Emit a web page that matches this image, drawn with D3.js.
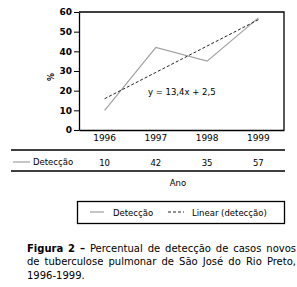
<!DOCTYPE html>
<html>
<head>
<meta charset="utf-8">
<script src="https://cdn.jsdelivr.net/npm/d3@7"></script>
<style>
  body { margin: 0; background: #fff; }
  svg text { font-family: "DejaVu Sans", sans-serif; fill: #000; }
</style>
</head>
<body>
<div id="chart"></div>
<script>
// Data
const years = ['1996', '1997', '1998', '1999'];
const deteccao = [10, 42, 35, 57];
const trendSlope = 13.4;
const trendIntercept = 2.5;
const yTicks = [0, 10, 20, 30, 40, 50, 60];
const captionLines = [
  ['Figura 2 –', 'Percentual de detecção de casos novos'],
  ['', 'de tuberculose pulmonar de São José do Rio Preto,'],
  ['', '1996-1999.']
];

const W = 297, H = 287;
const plot = { left: 79, right: 284, top: 12, bottom: 130 };

const svg = d3.select('#chart')
  .append('svg')
  .attr('width', W)
  .attr('height', H);

// Scales
const xScale = d3.scaleBand().domain(years).range([plot.left, plot.right]);
const xc = d => xScale(d) + xScale.bandwidth() / 2;
const yScale = d3.scaleLinear().domain([0, 60]).range([plot.bottom, plot.top]);

// Frame (top + right)
svg.append('path')
  .attr('d', `M${plot.left},${plot.top}H${plot.right}V${plot.bottom}`)
  .attr('fill', 'none')
  .attr('stroke', '#000')
  .attr('stroke-width', 1.3);

// Y axis
const yAxis = svg.append('g')
  .attr('transform', `translate(${plot.left},0)`)
  .call(d3.axisLeft(yScale).tickValues(yTicks).tickSize(5).tickPadding(2).tickSizeOuter(0));
yAxis.select('.domain').attr('stroke-width', 1.3);
yAxis.selectAll('text').attr('font-size', 9).attr('font-weight', 'bold').style('font-family', '"DejaVu Sans", sans-serif');

// X axis
const xAxis = svg.append('g')
  .attr('transform', `translate(0,${plot.bottom})`)
  .call(d3.axisBottom(xScale).tickSize(0).tickPadding(5).tickSizeOuter(0));
xAxis.select('.domain').attr('stroke-width', 1.3);
xAxis.selectAll('text').attr('font-size', 9).style('font-family', '"DejaVu Sans", sans-serif');

// Y label
svg.append('text')
  .attr('transform', 'translate(54,77) rotate(-90)')
  .attr('text-anchor', 'middle')
  .attr('font-size', 8)
  .attr('font-weight', 'bold')
  .text('%');

// Data line
const line = d3.line()
  .x((d, i) => xc(years[i]))
  .y(d => yScale(d));

svg.append('path')
  .datum(deteccao)
  .attr('d', line)
  .attr('fill', 'none')
  .attr('stroke', '#a0a0a0')
  .attr('stroke-width', 1.2);

// Trend line
const trend = years.map((y, i) => trendSlope * (i + 1) + trendIntercept);
svg.append('path')
  .datum(trend)
  .attr('d', line)
  .attr('fill', 'none')
  .attr('stroke', '#222')
  .attr('stroke-width', 1)
  .attr('stroke-dasharray', '3,2');

svg.append('text')
  .attr('x', 148)
  .attr('y', 95)
  .attr('font-size', 8.5)
  .text('y = 13,4x + 2,5');

// Data table
svg.append('line')
  .attr('x1', 11).attr('x2', plot.right + 1)
  .attr('y1', 150).attr('y2', 150)
  .attr('stroke', '#000').attr('stroke-width', 1.3);
svg.append('line')
  .attr('x1', 11).attr('x2', plot.right + 1)
  .attr('y1', 171).attr('y2', 171)
  .attr('stroke', '#000').attr('stroke-width', 1.3);

svg.append('line')
  .attr('x1', 13).attr('x2', 30)
  .attr('y1', 162).attr('y2', 162)
  .attr('stroke', '#a0a0a0').attr('stroke-width', 1.2);
svg.append('text')
  .attr('x', 33).attr('y', 165)
  .attr('font-size', 8.5)
  .text('Detecção');

svg.selectAll('.val')
  .data(deteccao)
  .enter()
  .append('text')
  .attr('class', 'val')
  .attr('x', (d, i) => xc(years[i]))
  .attr('y', 165.5)
  .attr('text-anchor', 'middle')
  .attr('font-size', 8.5)
  .text(d => d);

svg.append('text')
  .attr('x', 178).attr('y', 186)
  .attr('text-anchor', 'middle')
  .attr('font-size', 8.5)
  .text('Ano');

// Legend
svg.append('rect')
  .attr('x', 77.5).attr('y', 201.5)
  .attr('width', 207).attr('height', 22)
  .attr('fill', 'none')
  .attr('stroke', '#000').attr('stroke-width', 1.3);

svg.append('line')
  .attr('x1', 90).attr('x2', 104).attr('y1', 212).attr('y2', 212)
  .attr('stroke', '#a0a0a0').attr('stroke-width', 1.2);
svg.append('text')
  .attr('x', 113).attr('y', 215.5)
  .attr('font-size', 8.5)
  .text('Detecção');
svg.append('line')
  .attr('x1', 168).attr('x2', 184).attr('y1', 212).attr('y2', 212)
  .attr('stroke', '#222').attr('stroke-width', 1).attr('stroke-dasharray', '3,2');
svg.append('text')
  .attr('x', 192).attr('y', 215.5)
  .attr('font-size', 8.5)
  .text('Linear (detecção)');

// Caption, justified
const capLeft = 27, capRight = 296;
const capY = [251.5, 265, 278.5];
captionLines.forEach((parts, li) => {
  const words = [];
  if (parts[0]) parts[0].split(' ').forEach(w => words.push({ t: w, b: true }));
  parts[1].split(' ').forEach(w => words.push({ t: w, b: false }));
  const nodes = words.map(w => svg.append('text')
    .attr('y', capY[li])
    .attr('font-size', 10)
    .attr('font-weight', w.b ? 'bold' : 'normal')
    .text(w.t));
  const widths = nodes.map(n => n.node().getComputedTextLength());
  const total = d3.sum(widths);
  const justify = li < captionLines.length - 1;
  const gap = justify ? (capRight - capLeft - total) / (words.length - 1) : 3.5;
  let x = capLeft;
  nodes.forEach((n, i) => {
    n.attr('x', x);
    x += widths[i] + gap;
  });
});
</script>
</body>
</html>
